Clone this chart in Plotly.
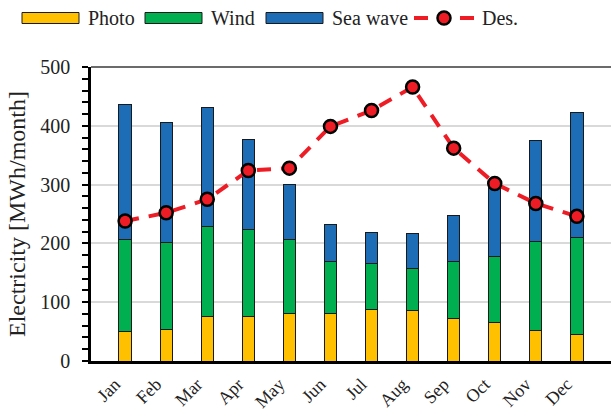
import plotly.graph_objects as go

# Monthly electricity by source [MWh/month]
months = ["Jan", "Feb", "Mar", "Apr", "May", "Jun",
          "Jul", "Aug", "Sep", "Oct", "Nov", "Dec"]
photo = [50, 53, 76, 75, 81, 81, 88, 86, 73, 66, 52, 45]
wind = [157, 149, 153, 149, 126, 88, 77, 72, 96, 111, 152, 165]
sea_wave = [229, 204, 202, 153, 94, 63, 53, 59, 78, 126, 171, 213]
desalination = [238, 252, 275, 324, 328, 399, 426, 466, 362, 302, 268, 246]

C_PHOTO = "#FFC000"
C_WIND = "#00B050"
C_SEA = "#1C6CB6"
C_DES = "#EE1C25"
FONT = "Liberation Serif"
TXT = "#222222"

W, H = 611, 413
L, R, T, B = 91, 0, 67, 52
PW, PH = W - L - R, H - T - B


def px(x):
    return (x - L) / PW


def py(y):
    return (H - B - y) / PH


fig = go.Figure()
bar_line = dict(color="#1a1a1a", width=1)
fig.add_trace(go.Bar(x=months, y=photo, name="Photo", marker=dict(color=C_PHOTO, line=bar_line)))
fig.add_trace(go.Bar(x=months, y=wind, name="Wind", marker=dict(color=C_WIND, line=bar_line)))
fig.add_trace(go.Bar(x=months, y=sea_wave, name="Sea wave", marker=dict(color=C_SEA, line=bar_line)))
fig.add_trace(go.Scatter(
    x=months, y=desalination, name="Des.", mode="lines+markers",
    line=dict(color=C_DES, width=4, dash="14px,10px"),
    marker=dict(size=13, color=C_DES, line=dict(color="black", width=2.5)),
))

shapes = []
annotations = []
# legend drawn above the plot
for x0, x1, tx, col, label in [(22, 79, 86, C_PHOTO, "Photo"),
                               (145, 202, 209, C_WIND, "Wind"),
                               (266, 323, 330, C_SEA, "Sea wave")]:
    shapes.append(dict(type="rect", xref="paper", yref="paper",
                       x0=px(x0), x1=px(x1), y0=py(23.5), y1=py(12.5),
                       fillcolor=col, line=dict(color="#1a1a1a", width=1)))
    annotations.append(dict(xref="paper", yref="paper", x=px(tx), y=py(18),
                            text=label, showarrow=False, xanchor="left", yanchor="middle",
                            font=dict(family=FONT, size=20, color=TXT)))
shapes.append(dict(type="line", xref="paper", yref="paper",
                   x0=px(414), x1=px(477), y0=py(18), y1=py(18),
                   line=dict(color=C_DES, width=4, dash="14px,9px")))
shapes.append(dict(type="circle", xref="paper", yref="paper",
                   x0=px(437.5), x1=px(450.5), y0=py(24.5), y1=py(11.5),
                   fillcolor=C_DES, line=dict(color="black", width=2.5)))
annotations.append(dict(xref="paper", yref="paper", x=px(480), y=py(18),
                        text="Des.", showarrow=False, xanchor="left", yanchor="middle",
                        font=dict(family=FONT, size=20, color=TXT)))
# top frame line
shapes.append(dict(type="line", xref="paper", yref="paper", x0=0, x1=1, y0=1, y1=1,
                   line=dict(color="#3a3a3a", width=1.5), layer="below"))

fig.update_layout(
    width=W, height=H,
    margin=dict(l=L, r=R, t=T, b=B),
    barmode="stack", bargap=0.7,
    plot_bgcolor="white", paper_bgcolor="white",
    showlegend=False,
    font=dict(family=FONT, color=TXT),
    shapes=shapes, annotations=annotations,
    xaxis=dict(
        type="category", showline=True, linecolor="black", linewidth=2.5,
        ticks="", tickangle=-45, tickfont=dict(family=FONT, size=18, color=TXT),
        ticklabelshift=-10, ticklabelstandoff=3,
        showgrid=False, automargin=False,
    ),
    yaxis=dict(
        range=[0, 500], dtick=100, showline=True, linecolor="black", linewidth=2.5,
        ticks="outside", ticklen=6, tickwidth=1.5, tickcolor="black",
        minor=dict(dtick=20, ticks="outside", ticklen=6, tickwidth=1.5, tickcolor="black",
                   showgrid=False),
        showgrid=True, gridcolor="#d9d9d9", gridwidth=1.5,
        tickfont=dict(family=FONT, size=20, color=TXT),
        ticklabelstandoff=8,
        title=dict(text="Electricity [MWh/month]", font=dict(family=FONT, size=24, color=TXT),
                   standoff=8),
        zeroline=False, automargin=False,
    ),
)

fig.write_html("out.html")
